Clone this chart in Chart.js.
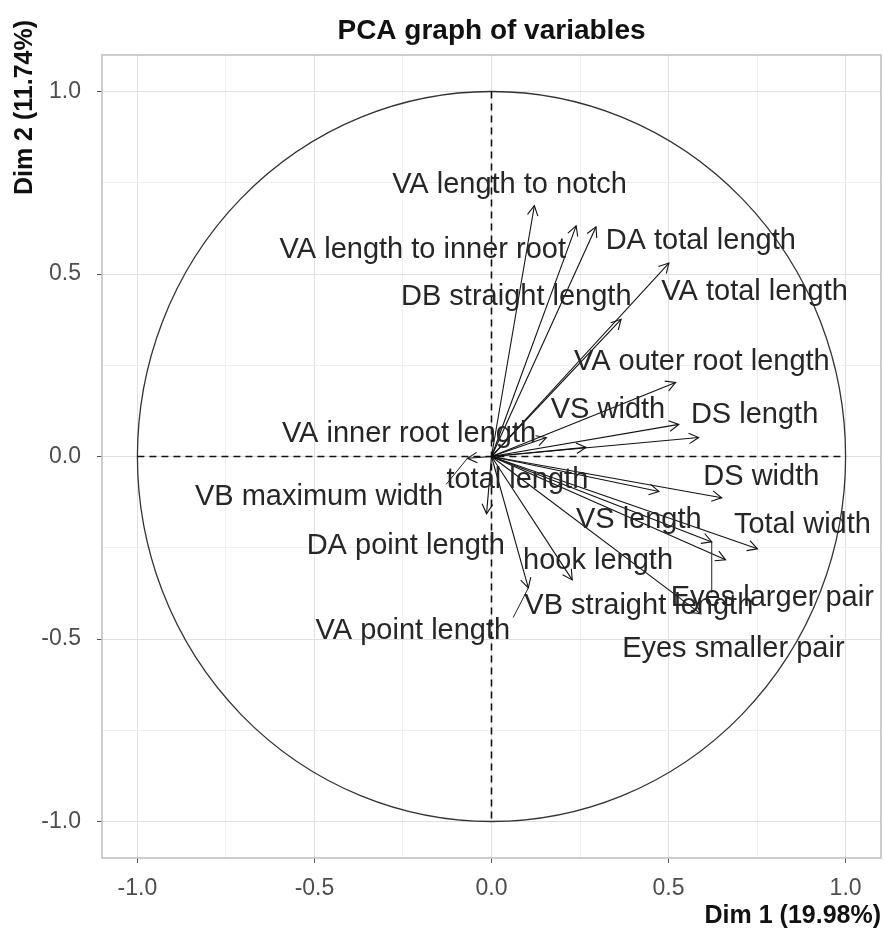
<!DOCTYPE html>
<html>
<head>
<meta charset="utf-8">
<script src="https://cdn.jsdelivr.net/npm/chart.js@4/dist/chart.umd.min.js"></script>
<style>
body { margin: 0; background: #fff; }
#wrap { width: 885px; height: 931px; }
</style>
</head>
<body>
<div id="wrap"><canvas id="pcaChart"></canvas></div>
<script>
// variable coordinates on Dim 1 / Dim 2
const variables = [
    'VA length to notch', 'VA length to inner root', 'DA total length', 'DB straight length',
    'VA total length', 'VA outer root length', 'VS width', 'DS length',
    'VA inner root length', 'total length', 'DS width', 'VB maximum width',
    'VS length', 'Total width', 'DA point length', 'hook length',
    'Eyes larger pair', 'VB straight length', 'Eyes smaller pair', 'VA point length'
]
const dim1 = [0.121, 0.239, 0.295, 0.366, 0.501, 0.520, 0.529, 0.585, 0.155, 0.267,
    0.650, -0.068, 0.473, 0.751, -0.014, 0.228, 0.661, 0.622, 0.591, 0.104]
const dim2 = [0.687, 0.632, 0.629, 0.376, 0.530, 0.203, 0.088, 0.052, 0.052, 0.025,
    -0.113, -0.005, -0.096, -0.253, -0.157, -0.338, -0.283, -0.234, -0.431, -0.360]

// where the (repelled) text labels sit
const labelDim1 = [0.051, -0.194, 0.591, 0.070, 0.743, 0.594, 0.329, 0.743, -0.233, 0.073,
    0.762, -0.487, 0.416, 0.878, -0.242, 0.301, 0.793, 0.416, 0.683, -0.222]
const labelDim2 = [0.745, 0.565, 0.590, 0.437, 0.450, 0.258, 0.127, 0.113, 0.063, -0.065,
    -0.057, -0.112, -0.175, -0.189, -0.244, -0.285, -0.389, -0.409, -0.527, -0.477]

const tickValues = [-1, -0.5, 0, 0.5, 1]
const gridValues = [-1, -0.75, -0.5, -0.25, 0, 0.25, 0.5, 0.75, 1]
const axisMin = -1.1
const axisMax = 1.1
const circleRadius = 1

const FONT = "'Liberation Sans', Arial, sans-serif"

const isMajor = v => tickValues.some(t => Math.abs(t - v) < 1e-9)

function axisOptions(fitFn) {
    return {
        type: 'linear',
        min: axisMin,
        max: axisMax,
        afterBuildTicks: scale => { scale.ticks = gridValues.map(v => ({ value: v })) },
        afterFit: fitFn,
        border: { display: false },
        grid: {
            color: ctx => isMajor(ctx.tick.value) ? '#e0e0e0' : '#efefef',
            tickColor: ctx => isMajor(ctx.tick.value) ? '#555' : 'rgba(0,0,0,0)',
            tickLength: 5,
            lineWidth: 1
        },
        ticks: {
            autoSkip: false,
            maxRotation: 0,
            color: '#4d4d4d',
            font: { family: FONT, size: 23 },
            callback: v => isMajor(v) ? v.toFixed(1) : ''
        }
    }
}

const pcaDecor = {
    id: 'pcaDecor',
    beforeDatasetsDraw(chart) {
        const { ctx, chartArea, scales: { x, y } } = chart
        ctx.save()
        // panel border
        ctx.strokeStyle = '#bdbdbd'
        ctx.lineWidth = 1.5
        ctx.strokeRect(chartArea.left, chartArea.top, chartArea.right - chartArea.left, chartArea.bottom - chartArea.top)

        // correlation circle
        const cx = x.getPixelForValue(0)
        const cy = y.getPixelForValue(0)
        const rx = x.getPixelForValue(circleRadius) - cx
        const ry = cy - y.getPixelForValue(circleRadius)
        ctx.strokeStyle = '#333'
        ctx.lineWidth = 1.3
        ctx.beginPath()
        ctx.ellipse(cx, cy, rx, ry, 0, 0, Math.PI * 2)
        ctx.stroke()

        // dashed axes
        ctx.strokeStyle = '#111'
        ctx.lineWidth = 1.6
        ctx.setLineDash([7, 5])
        ctx.beginPath()
        ctx.moveTo(x.getPixelForValue(-circleRadius), cy)
        ctx.lineTo(x.getPixelForValue(circleRadius), cy)
        ctx.moveTo(cx, y.getPixelForValue(circleRadius))
        ctx.lineTo(cx, y.getPixelForValue(-circleRadius))
        ctx.stroke()
        ctx.restore()
    },
    afterDatasetsDraw(chart) {
        const { ctx, scales: { x, y } } = chart
        const ox = x.getPixelForValue(0)
        const oy = y.getPixelForValue(0)
        ctx.save()
        // arrow heads
        ctx.strokeStyle = '#111'
        ctx.lineWidth = 1.1
        variables.forEach((name, i) => {
            const tx = x.getPixelForValue(dim1[i])
            const ty = y.getPixelForValue(dim2[i])
            const a = Math.atan2(ty - oy, tx - ox)
            const len = 11, spread = 0.5
            ctx.beginPath()
            ctx.moveTo(tx - len * Math.cos(a - spread), ty - len * Math.sin(a - spread))
            ctx.lineTo(tx, ty)
            ctx.lineTo(tx - len * Math.cos(a + spread), ty - len * Math.sin(a + spread))
            ctx.stroke()
        })

        // labels and repel segments
        ctx.font = '29px ' + FONT
        ctx.textAlign = 'center'
        ctx.textBaseline = 'middle'
        variables.forEach((name, i) => {
            const lx = x.getPixelForValue(labelDim1[i])
            const ly = y.getPixelForValue(labelDim2[i])
            const tx = x.getPixelForValue(dim1[i])
            const ty = y.getPixelForValue(dim2[i])
            const w = ctx.measureText(name).width
            const pad = 3
            const bx0 = lx - w / 2 - pad, bx1 = lx + w / 2 + pad
            const by0 = ly - 10 - pad, by1 = ly + 10 + pad
            const nx = Math.min(Math.max(tx, bx0), bx1)
            const ny = Math.min(Math.max(ty, by0), by1)
            if (Math.hypot(nx - tx, ny - ty) > 30) {
                ctx.strokeStyle = '#222'
                ctx.lineWidth = 1
                ctx.beginPath()
                ctx.moveTo(tx, ty)
                ctx.lineTo(nx, ny)
                ctx.stroke()
            }
            ctx.fillStyle = '#262626'
            ctx.fillText(name, lx, ly)
        })

        ctx.restore()
    },
    afterDraw(chart) {
        const { ctx, chartArea } = chart
        ctx.save()
        ctx.fillStyle = '#111'
        ctx.font = 'bold 28px ' + FONT
        ctx.textAlign = 'center'
        ctx.textBaseline = 'middle'
        ctx.fillText('PCA graph of variables', (chartArea.left + chartArea.right) / 2, 31)

        ctx.font = 'bold 25px ' + FONT
        ctx.textAlign = 'right'
        ctx.textBaseline = 'middle'
        ctx.fillText('Dim 1 (19.98%)', chartArea.right, 916)

        ctx.translate(25, 20)
        ctx.rotate(-Math.PI / 2)
        ctx.fillText('Dim 2 (11.74%)', 0, 0)
        ctx.restore()
    }
}

const datasets = variables.map((name, i) => ({
    label: name,
    data: [{ x: 0, y: 0 }, { x: dim1[i], y: dim2[i] }],
    showLine: true,
    borderColor: '#111',
    borderWidth: 1.1,
    pointRadius: 0
}))

const xAxis = axisOptions(scale => { scale.height = 73 })
xAxis.ticks.padding = 12
const yAxis = axisOptions(scale => { scale.width = 102 })
yAxis.ticks.padding = 16

new Chart(document.querySelector('#pcaChart'), {
    type: 'scatter',
    data: { datasets },
    options: {
        responsive: true,
        maintainAspectRatio: false,
        animation: false,
        layout: { padding: { top: 55, right: 4, left: 0, bottom: 0 } },
        plugins: { legend: { display: false }, tooltip: { enabled: false } },
        scales: { x: xAxis, y: yAxis }
    },
    plugins: [pcaDecor]
})
</script>
</body>
</html>
